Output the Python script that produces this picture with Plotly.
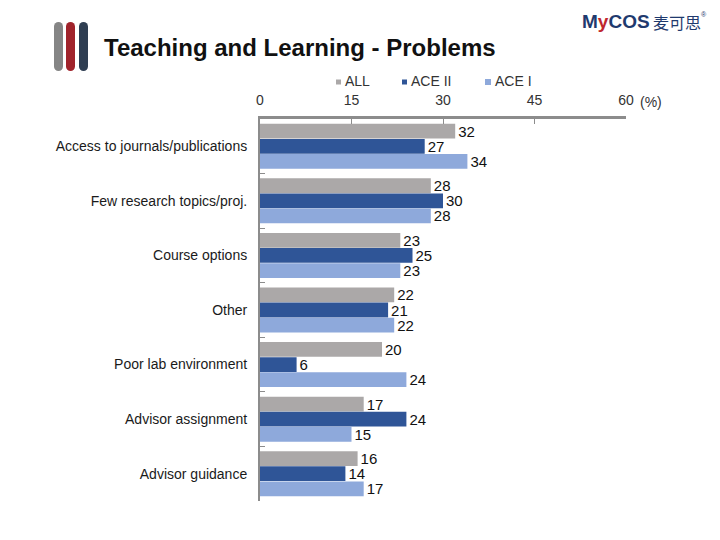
import plotly.graph_objects as go

categories = ["Access to journals/publications", "Few research topics/proj.", "Course options",
              "Other", "Poor lab environment", "Advisor assignment", "Advisor guidance"]
all_vals = [32, 28, 23, 22, 20, 17, 16]
ace2_vals = [27, 30, 25, 21, 6, 24, 14]
ace1_vals = [34, 28, 23, 22, 24, 15, 17]
x_ticks = [0, 15, 30, 45, 60]
series_names = ["ALL", "ACE II", "ACE I"]
series_colors = ["#ABA8A8", "#2F5597", "#8EA9DB"]

# page geometry: the browser body has an 8px margin on every side,
# so the figure is sized to fit inside it without any scrolling
OFF = 8
W, H = 720 - 2 * OFF, 540 - 2 * OFF
L, R, T, B = 260, 94, 119, 39          # page pixels of plot area edges (from page sides)
PW, PH = 720 - L - R, 540 - T - B

def px(x):
    return (x - L) / PW

def py(y):
    return 1 - (y - T) / PH

FONT = "Liberation Sans, Arial, sans-serif"

fig = go.Figure()
for name, vals, col in zip(series_names, [all_vals, ace2_vals, ace1_vals], series_colors):
    fig.add_trace(go.Bar(
        y=categories, x=vals, name=name, orientation="h",
        marker=dict(color=col, line=dict(width=0)),
        text=[str(v) for v in vals], textposition="outside", constraintext="none",
        textfont=dict(size=15, color="#111111", family=FONT),
        cliponaxis=False, showlegend=False,
    ))

shapes = []
# decorative bars next to the title
for x0, col in [(54, "#858585"), (66, "#A0232B"), (79, "#2F3E52")]:
    w = 9
    y_top, y_bot = 22, 71
    shapes.append(dict(type="rect", xref="paper", yref="paper",
                       x0=px(x0), x1=px(x0 + w), y0=py(y_bot - w / 2), y1=py(y_top + w / 2),
                       fillcolor=col, line=dict(width=0)))
    for cy in (y_top + w / 2, y_bot - w / 2):
        shapes.append(dict(type="circle", xref="paper", yref="paper",
                           x0=px(x0), x1=px(x0 + w), y0=py(cy + w / 2), y1=py(cy - w / 2),
                           fillcolor=col, line=dict(width=0)))

annotations = [
    dict(text="<b>Teaching and Learning - Problems</b>", xref="paper", yref="paper",
         x=px(102), y=py(47), xanchor="left", yanchor="middle", showarrow=False,
         font=dict(size=24, color="#111111", family=FONT)),
    dict(text="(%)", xref="paper", yref="paper", x=px(638), y=py(102),
         xanchor="left", yanchor="middle", showarrow=False,
         font=dict(size=14, color="#333333", family=FONT)),
    dict(text="<b><span style='color:#1F3A6E'>M</span><span style='color:#C0272D'>y</span>"
              "<span style='color:#1F3A6E'>COS</span></b>",
         xref="paper", yref="paper", x=px(580), y=py(21), xanchor="left", yanchor="middle",
         showarrow=False, font=dict(size=19, family=FONT)),
    dict(text="麦可思", xref="paper", yref="paper", x=px(651), y=py(22), xanchor="left",
         yanchor="middle", showarrow=False,
         font=dict(size=16, color="#1F3A6E", family="Noto Sans CJK SC")),
    dict(text="®", xref="paper", yref="paper", x=px(699), y=py(15), xanchor="left",
         yanchor="middle", showarrow=False, font=dict(size=7, color="#1F3A6E", family=FONT)),
]

# legend: small squares + labels
legend_marker_x = [336, 402, 485]
legend_marker_size = [5, 5, 6]
for name, col, mx, ms in zip(series_names, series_colors, legend_marker_x, legend_marker_size):
    cy = 82
    shapes.append(dict(type="rect", xref="paper", yref="paper",
                       x0=px(mx), x1=px(mx + ms), y0=py(cy + ms / 2), y1=py(cy - ms / 2),
                       fillcolor=col, line=dict(width=0)))
    annotations.append(dict(text=name, xref="paper", yref="paper", x=px(mx + ms + 2), y=py(81),
                            xanchor="left", yanchor="middle", showarrow=False,
                            font=dict(size=14, color="#333333", family=FONT)))

fig.update_layout(
    width=W, height=H,
    margin=dict(l=L - OFF, r=R - OFF, t=T - OFF, b=B - OFF, autoexpand=False),
    paper_bgcolor="white", plot_bgcolor="white",
    barmode="group", bargap=0.17, bargroupgap=0.02,
    font=dict(family=FONT, size=14, color="#222222"),
    showlegend=False,
    shapes=shapes, annotations=annotations,
)
fig.update_xaxes(
    range=[0, 60], side="top", tickvals=x_ticks, ticktext=[str(t) for t in x_ticks],
    showline=True, linecolor="#8C8C8C", linewidth=3, showgrid=False, zeroline=False,
    ticks="inside", ticklen=5, tickcolor="#8C8C8C", tickwidth=1,
    tickfont=dict(size=14, color="#333333", family=FONT), ticklabelstandoff=5,
)
fig.update_yaxes(
    autorange="reversed", showline=True, linecolor="#8C8C8C", linewidth=2, showgrid=False,
    ticks="inside", ticklen=5, tickcolor="#8C8C8C", tickson="boundaries",
    tickfont=dict(size=14, color="#1A1A1A", family=FONT), ticklabelstandoff=8,
)

fig.write_html("out.html")
